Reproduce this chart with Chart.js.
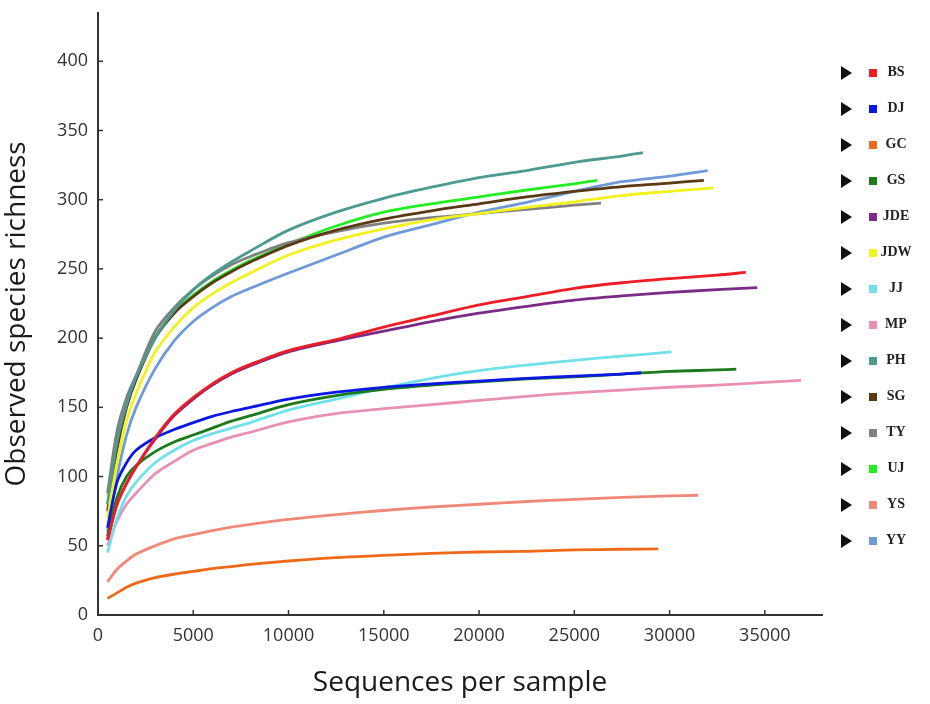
<!DOCTYPE html>
<html lang="en">
<head>
  <meta charset="UTF-8" />
  <title>Rarefaction curves</title>
  <script src="https://cdn.jsdelivr.net/npm/chart.js"></script>
  <style>
    body { margin: 0; background: #ffffff; }
    #wrap { position: relative; width: 930px; height: 704px; }
    #legend { position: absolute; left: 838px; top: 55px; }
    .row { position: relative; height: 36px; width: 90px; }
    .tri {
      position: absolute; left: 3px; top: 11px; width: 0; height: 0;
      border-top: 7px solid transparent; border-bottom: 7px solid transparent;
      border-left: 11px solid #111;
    }
    .sq { position: absolute; left: 31px; top: 14px; width: 8px; height: 8px; }
    .lbl {
      position: absolute; left: 40px; top: 9px; width: 36px; text-align: center;
      font-family: 'Liberation Serif', serif; font-weight: bold; font-size: 14px; color: #222;
    }
  </style>
</head>
<body>
  <div id="wrap">
    <canvas id="chart" width="930" height="704"></canvas>
    <div id="legend"></div>
  </div>

  <script>
    const samples = ["BS", "DJ", "GC", "GS", "JDE", "JDW", "JJ", "MP", "PH", "SG", "TY", "UJ", "YS", "YY"];
    const colors = ["#EE1C24", "#0A18E6", "#EE6A1A", "#1B7A1B", "#7B2A85", "#F2F21E", "#70E0EA",
                    "#E890B4", "#4C9A92", "#5A3A12", "#808080", "#22EE22", "#F08878", "#6E9AD8"];

    // sequencing depths where the curves were read
    const depths = [500, 1000, 1500, 2000, 3000, 4000, 5000, 6000, 7000, 8000, 10000, 12500,
                    15000, 17500, 20000, 22500, 25000, 27500, 30000, 32500, 35000];

    const BS  = [54, 80, 95, 107, 128, 145, 157, 167, 175, 181, 191, 199, 208, 216, 224, 230, 236, 240, 243, 245.5];
    const DJ  = [63, 96, 110, 119, 128, 134, 139, 143.5, 147, 150, 156, 161, 164.5, 167, 169, 171, 172.5, 174];
    const GC  = [12, 16, 20, 23, 27, 29.5, 31.5, 33.5, 35, 36.5, 39, 41.5, 43, 44.5, 45.5, 46, 47, 47.5];
    const GS  = [57, 85, 100, 108, 118, 125, 130, 135, 140, 144, 152, 158.5, 163, 166, 168.5, 170.5, 172, 174, 176, 177];
    const JDE = [55, 80, 95, 107, 127, 144, 156, 166, 174, 180, 190, 198, 205, 212, 218, 223, 227.5, 230.5, 233, 235];
    const JDW = [70, 110, 140, 160, 190, 208, 222, 232, 240, 247, 260, 271, 279, 285.5, 290, 294.5, 298.5, 303, 306];
    const JJ  = [45, 70, 86, 96, 110, 119, 126, 131, 135, 139, 148, 156, 164, 171, 176.5, 180.5, 184, 187];
    const MP  = [50, 68, 80, 88, 102, 111, 119, 124, 128.5, 132, 139.5, 145.5, 149, 152, 155, 158, 160.5, 162.5, 164.5, 166, 168];
    const PH  = [80, 125, 152, 172, 200, 220, 235, 246, 255, 263, 278, 291, 301, 309, 316, 321, 327, 331.5];
    const SG  = [75, 120, 150, 170, 200, 218, 230, 240, 248, 255, 267, 278, 286, 292, 297, 302, 306, 309.5, 312];
    const TY  = [88, 133, 157, 173, 205, 222, 235, 245, 253, 259, 269, 277, 283, 287, 290, 293, 296];
    const UJ  = [80, 125, 152, 172, 201, 219, 231, 241, 249, 256, 268, 281, 291, 297, 302, 307, 311.5];
    const YS  = [24, 33, 39, 44, 50, 55, 58, 61, 63.5, 65.5, 69, 72.5, 75.5, 78, 80, 82, 83.5, 85, 86];
    const YY  = [60, 100, 130, 150, 178, 198, 212, 222, 230, 236, 247, 260, 273, 282, 291, 298, 306, 313, 317];

    // last point of each curve (depth, richness)
    const endDepths = [34000, 28500, 29400, 33500, 34600, 32300, 30100, 36900, 28600, 31800, 26400, 26200, 31500, 32000];
    const endValues = [247.5, 175, 47.8, 177.6, 236.5, 308.5, 190, 169.5, 334, 314, 297.5, 314, 86.5, 321];

    const series = [BS, DJ, GC, GS, JDE, JDW, JJ, MP, PH, SG, TY, UJ, YS, YY];

    const xTicks = [0, 5000, 10000, 15000, 20000, 25000, 30000, 35000];
    const yTicks = [0, 50, 100, 150, 200, 250, 300, 350, 400];

    const datasets = samples.map((name, k) => {
      const pts = series[k].map((v, i) => ({ x: depths[i], y: v }));
      pts.push({ x: endDepths[k], y: endValues[k] });
      return {
        label: name,
        data: pts,
        borderColor: colors[k],
        backgroundColor: colors[k],
        borderWidth: 2.8,
        pointRadius: 0,
        tension: 0.3,
        fill: false
      };
    });

    // legend
    const legend = document.getElementById('legend');
    legend.innerHTML = samples.map((name, k) => `
      <div class="row">
        <div class="tri"></div>
        <div class="sq" style="background:${colors[k]}"></div>
        <div class="lbl">${name}</div>
      </div>`).join('');

    // small inward tick marks like the original plot
    const innerTicks = {
      id: 'innerTicks',
      afterDraw(chart) {
        const { ctx, scales: { x, y }, chartArea } = chart;
        ctx.save();
        ctx.strokeStyle = '#333';
        ctx.lineWidth = 1.5;
        xTicks.forEach(t => {
          const px = x.getPixelForValue(t);
          ctx.beginPath();
          ctx.moveTo(px, chartArea.bottom);
          ctx.lineTo(px, chartArea.bottom - 5);
          ctx.stroke();
        });
        yTicks.forEach(t => {
          const py = y.getPixelForValue(t);
          ctx.beginPath();
          ctx.moveTo(chartArea.left, py);
          ctx.lineTo(chartArea.left + 5, py);
          ctx.stroke();
        });
        ctx.restore();
      }
    };

    const tickFont = { family: "'Open Sans', sans-serif", size: 18 };
    const titleFont = { family: "'Open Sans', sans-serif", size: 28 };

    new Chart(document.getElementById('chart'), {
      type: 'line',
      data: { datasets },
      plugins: [innerTicks],
      options: {
        responsive: false,
        animation: false,
        layout: { padding: { left: 0, top: 12, right: 108, bottom: 0 } },
        plugins: { legend: { display: false }, tooltip: { enabled: false } },
        scales: {
          x: {
            type: 'linear',
            min: 0,
            max: 38000,
            afterFit: s => { s.height = 89; },
            afterBuildTicks: s => { s.ticks = xTicks.map(v => ({ value: v })); },
            grid: { display: false },
            border: { color: '#333', width: 2 },
            ticks: { color: '#333', font: tickFont, padding: 2, maxRotation: 0, callback: v => String(v) },
            title: { display: true, text: 'Sequences per sample', color: '#1a1a1a', font: titleFont, padding: { top: 0, bottom: 4 } }
          },
          y: {
            min: 0,
            max: 435,
            afterFit: s => { s.width = 98; },
            afterBuildTicks: s => { s.ticks = yTicks.map(v => ({ value: v })); },
            grid: { display: false },
            border: { color: '#333', width: 2 },
            ticks: { color: '#333', font: tickFont, padding: 2, callback: v => String(v) },
            title: { display: true, text: 'Observed species richness', color: '#1a1a1a', font: titleFont, padding: { top: 0, bottom: 0 } }
          }
        }
      }
    });
  </script>
</body>
</html>
